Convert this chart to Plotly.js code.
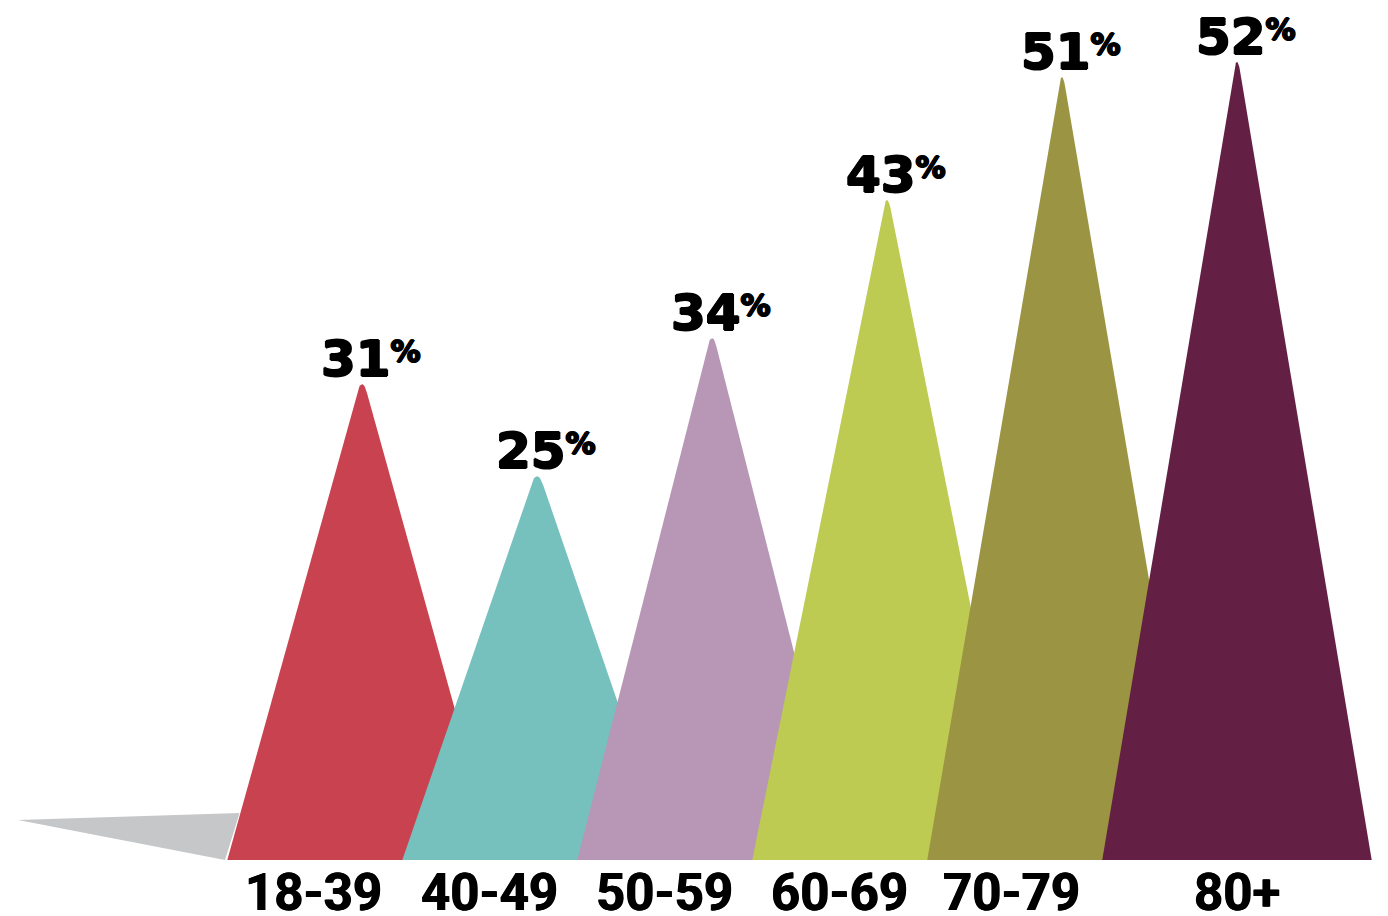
<!DOCTYPE html>
<html>
<head>
<meta charset="utf-8">
<script src="https://cdn.plot.ly/plotly-3.0.1.min.js"></script>
<style>
  html, body { margin: 0; padding: 0; background: #ffffff; }
  #chart { width: 1388px; height: 916px; }
</style>
</head>
<body>
<div id="chart"></div>
<script>
// Age groups and their share (%)
const ageGroups = ['18-39', '40-49', '50-59', '60-69', '70-79', '80+'];
const shares = [31, 25, 34, 43, 51, 52];
const peakColors = ['#C8434F', '#76C0BE', '#B797B5', '#BDCB52', '#9B9443', '#632044'];

// Canvas and axis ranges
const W = 1388, H = 916;
const xRange = [-2.069, 5.863];
const yRange = [-3.65, 56.03];
const pxPerX = W / (xRange[1] - xRange[0]);
const pxPerY = H / (yRange[1] - yRange[0]);

// Peak geometry
const halfBase = 0.77;      // half width of each peak base (category units)
const capDepth = 9;         // depth of the rounded tip, in pixels
// horizontal nudge of each age label, in pixels
const labelShift = [-49, -48, -48, -48, -51, 0];

// One filled peak whose tip is a smooth rounded cap tangent to the straight sides
function peakPath(cx, h) {
  const hPx = h * pxPerY;
  const bPx = halfBase * pxPerX;
  const s = bPx / (hPx + capDepth);          // side slope (half width per pixel of depth)
  const c = 2 * s * Math.sqrt(capDepth);
  const steps = [1, 0.75, 0.5, 0.3, 0.15, 0.06, 0.015, 0];
  const left = [], right = [];
  steps.forEach(f => {
    const dd = f * capDepth;
    const w = c * Math.sqrt(dd);
    left.push([cx - w / pxPerX, h - dd / pxPerY]);
  });
  for (let k = steps.length - 2; k >= 0; k--) {
    const dd = steps[k] * capDepth;
    const w = c * Math.sqrt(dd);
    right.push([cx + w / pxPerX, h - dd / pxPerY]);
  }
  const pts = [[cx - halfBase, 0]].concat(left, right, [[cx + halfBase, 0], [cx - halfBase, 0]]);
  return { xs: pts.map(p => p[0]), ys: pts.map(p => p[1]) };
}

const traces = shares.map((v, i) => {
  const p = peakPath(i, v);
  return {
    type: 'scatter',
    mode: 'lines',
    x: p.xs,
    y: p.ys,
    fill: 'toself',
    fillcolor: peakColors[i],
    line: { width: 0, color: peakColors[i] },
    hoverinfo: 'text',
    text: ageGroups[i] + ': ' + v + '%',
    showlegend: false
  };
});

const heavy = '1px 0 0 #000, -1px 0 0 #000, 0 0.6px 0 #000, 0 -0.6px 0 #000';

// small raised percent sign, top aligned with the digits
const pct = '<span style="font-size:30px;baseline-shift:14px">%</span>';

const valueLabels = shares.map((v, i) => ({
  x: i, y: v,
  xref: 'x', yref: 'y',
  text: v + pct,
  showarrow: false,
  xanchor: 'left', yanchor: 'bottom',
  xshift: -43, yshift: -6,
  font: { family: 'DejaVu Sans', size: 50, color: '#000000', weight: 'bold', shadow: heavy }
}));

const ageLabels = ageGroups.map((g, i) => ({
  x: i, y: 0,
  xref: 'x', yref: 'y',
  text: g,
  showarrow: false,
  xanchor: 'center', yanchor: 'middle',
  xshift: labelShift[i], yshift: -33,
  font: { family: 'Roboto', size: 51, color: '#000000', weight: 'bold',
          shadow: '0.6px 0 0 #000, -0.6px 0 0 #000' }
}));

// grey shadow wedge trailing off the first peak
const shadow = {
  type: 'path',
  xref: 'x', yref: 'y',
  path: 'M -1.966 2.6 L -0.70 3.06 L -0.783 0 Z',
  fillcolor: '#C6C7C9',
  line: { width: 0 },
  layer: 'below'
};

const layout = {
  width: W,
  height: H,
  margin: { l: 0, r: 0, t: 0, b: 0 },
  paper_bgcolor: '#ffffff',
  plot_bgcolor: '#ffffff',
  xaxis: { range: xRange, visible: false, fixedrange: true },
  yaxis: { range: yRange, visible: false, fixedrange: true },
  shapes: [shadow],
  annotations: valueLabels.concat(ageLabels),
  showlegend: false
};

Plotly.newPlot('chart', traces, layout, { displayModeBar: false, staticPlot: true });
</script>
</body>
</html>
